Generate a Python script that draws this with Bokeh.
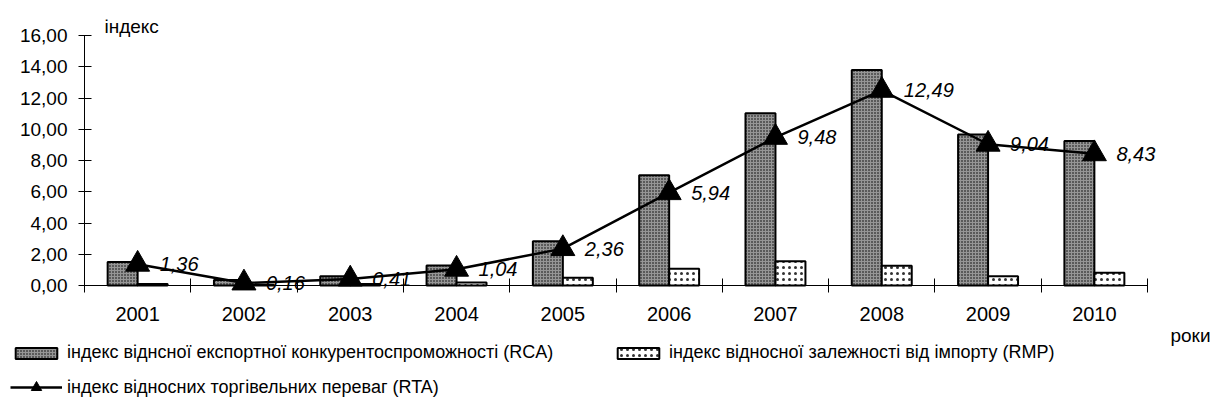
import numpy as np
from bokeh.plotting import figure
from bokeh.core.properties import value
from bokeh.models import (Range1d, FixedTicker, CustomJSTickFormatter, ColumnDataSource,
                          Legend, LegendItem, Label, LabelSet)
from bokeh.embed import file_html
from bokeh.resources import INLINE

# ---- data ----
years = ["2001", "2002", "2003", "2004", "2005", "2006", "2007", "2008", "2009", "2010"]
rca = [1.50, 0.36, 0.60, 1.28, 2.84, 7.05, 11.02, 13.80, 9.66, 9.25]
rmp = [0.10, 0.05, 0.10, 0.20, 0.49, 1.07, 1.56, 1.26, 0.60, 0.81]
rta = [1.36, 0.16, 0.41, 1.04, 2.36, 5.94, 9.48, 12.49, 9.04, 8.43]
y_ticks = [0, 2, 4, 6, 8, 10, 12, 14, 16]
name_rca = "індекс віднсної експортної конкурентоспроможності (RCA)"
name_rmp = "індекс відносної залежності від імпорту (RMP)"
name_rta = "індекс відносних торгівельних переваг (RTA)"
y_title = "індекс"
x_title = "роки"

FONT = "Liberation Sans"
BW = 0.282
W, H = 1214, 412

xc = np.arange(len(years)) + 0.5
src = ColumnDataSource(dict(
    xc=xc, x_rca=xc - BW / 2, x_rmp=xc + BW / 2,
    rca=rca, rmp=rmp, rta=rta,
    lbl=[f"{v:.2f}".replace(".", ",") for v in rta],
))

# frame covers the whole canvas; axes are pinned at the data origin
p = figure(width=W, height=H, output_backend="svg", toolbar_location=None,
           x_range=Range1d(-0.790, 10.630), y_range=Range1d(-8.128, 18.24),
           min_border=0)
p.outline_line_color = None
p.xgrid.visible = False
p.ygrid.visible = False
p.background_fill_color = "white"
p.border_fill_color = "white"

r_rca = p.vbar(x="x_rca", top="rca", width=BW, bottom=0, source=src,
               fill_color="#969696", hatch_pattern="dot", hatch_color="black",
               hatch_scale=3, hatch_weight=1, line_color="black", line_width=2)
r_rmp = p.vbar(x="x_rmp", top="rmp", width=BW, bottom=0, source=src,
               fill_color="white", hatch_pattern="dot", hatch_color="#333333",
               hatch_scale=6, hatch_weight=1, line_color="black", line_width=2)
r_line = p.line(x="xc", y="rta", source=src, line_color="black", line_width=2.5)
r_mark = p.scatter(x="xc", y="rta", source=src, marker="triangle", size=24,
                   fill_color="black", line_color="black")

labels = LabelSet(x="xc", y="rta", text="lbl", source=src, x_offset=22,
                  text_baseline="middle", text_font=value(FONT), text_font_size="20px",
                  text_font_style="italic", text_color="black")
p.add_layout(labels)

# y axis
yax = p.yaxis[0]
yax.fixed_location = 0
yax.bounds = (0, 16)
yax.ticker = FixedTicker(ticks=y_ticks)
yax.formatter = CustomJSTickFormatter(code="return tick.toFixed(2).replace('.', ',');")
yax.major_tick_in = 7
yax.major_tick_out = 6
yax.minor_tick_in = 0
yax.minor_tick_out = 0
yax.major_label_standoff = 11
yax.major_label_text_font = FONT
yax.major_label_text_font_size = "19px"
yax.major_label_text_color = "black"
yax.axis_line_color = "black"
yax.major_tick_line_color = "black"

# x axis
xax = p.xaxis[0]
xax.fixed_location = 0
xax.bounds = (0, len(years))
xax.ticker = FixedTicker(ticks=list(xc), minor_ticks=list(range(len(years) + 1)))
xax.major_label_overrides = {float(x): y for x, y in zip(xc, years)}
xax.major_tick_in = 0
xax.major_tick_out = 0
xax.minor_tick_in = 7
xax.minor_tick_out = 7
xax.minor_tick_line_color = "black"
xax.major_label_standoff = 14
xax.major_label_text_font = FONT
xax.major_label_text_font_size = "20px"
xax.major_label_text_color = "black"
xax.axis_line_color = "black"

p.add_layout(Label(x=0.188, y=16.6, text=y_title, text_font=FONT, text_font_size="19px",
                   text_baseline="alphabetic", text_color="black"))
p.add_layout(Label(x=10.216, y=-3.2, text=x_title, text_font=FONT, text_font_size="19px",
                   text_baseline="alphabetic", text_color="black"))

def mk_legend(items, loc, gh=14):
    lg = Legend(items=items, location=loc, orientation="horizontal",
                glyph_width=52, glyph_height=gh, label_height=20, label_standoff=5,
                spacing=0, padding=0, margin=0, border_line_alpha=0,
                background_fill_alpha=0, label_text_font=FONT,
                label_text_font_size="18px", label_text_color="black")
    p.add_layout(lg)

mk_legend([LegendItem(label=name_rca, renderers=[r_rca])], (10, 49))
mk_legend([LegendItem(label=name_rmp, renderers=[r_rmp])], (612, 49))
mk_legend([LegendItem(label=name_rta, renderers=[r_line, r_mark])], (10, 12), gh=26)

open("out.html", "w").write(file_html(p, INLINE))
